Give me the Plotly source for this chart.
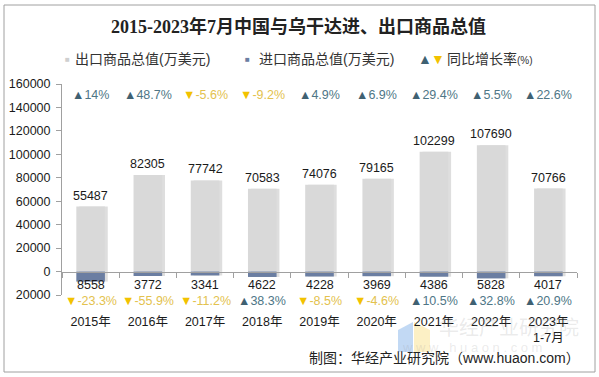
import plotly.graph_objects as go

years = ["2015年", "2016年", "2017年", "2018年", "2019年", "2020年", "2021年", "2022年", "2023年<br>1-7月"]
exports = [55487, 82305, 77742, 70583, 74076, 79165, 102299, 107690, 70766]
export_growth = [14, 48.7, -5.6, -9.2, 4.9, 6.9, 29.4, 5.5, 22.6]
imports = [8558, 3772, 3341, 4622, 4228, 3969, 4386, 5828, 4017]
import_growth = [-23.3, -55.9, -11.2, 38.3, -8.5, -4.6, 10.5, 32.8, 20.9]

EXP_COLOR = "#D9D9D9"
IMP_COLOR = "#6B7EA2"
UP_TRI = "#3F6172"
UP_TXT = "#4E7686"
DN_TRI = "#F2C200"
DN_TXT = "#E3C24E"
FONT = "Liberation Sans, Noto Sans CJK SC, sans-serif"

L, R, T, B = 62, 22, 84, 82
W, H = 599, 377
PW, PH = W - L - R, H - T - B


def px(x):
    return (x - L) / PW


def py(y):
    return (H - B - y) / PH


x_idx = list(range(len(years)))
neg_imports = [-v for v in imports]

fig = go.Figure()
# soft shadows
fig.add_trace(go.Bar(x=x_idx, y=exports, width=0.5, offset=-0.25 + 0.05,
                     marker=dict(color="rgba(0,0,0,0.13)", line=dict(width=0)),
                     hoverinfo="skip", showlegend=False))
fig.add_trace(go.Bar(x=x_idx, y=neg_imports, width=0.5, offset=-0.25 + 0.05,
                     marker=dict(color="rgba(0,0,0,0.13)", line=dict(width=0)),
                     hoverinfo="skip", showlegend=False))
fig.add_trace(go.Bar(x=x_idx, y=exports, width=0.5, offset=-0.25, name="出口商品总值(万美元)",
                     marker=dict(color=EXP_COLOR, line=dict(width=0)), showlegend=False))
fig.add_trace(go.Bar(x=x_idx, y=neg_imports, width=0.5, offset=-0.25, name="进口商品总值(万美元)",
                     marker=dict(color=IMP_COLOR, line=dict(width=0)), showlegend=False))

ann = []


def growth_text(g):
    s = ("%g" % g)
    if g >= 0:
        return f"<span style='color:{UP_TRI}'>▲</span>{s}%", UP_TXT
    return f"<span style='color:{DN_TRI}'>▼</span>{s}%", DN_TXT


EXP_G_Y = 150800
IMP_V_Y = -11500
for i in x_idx:
    ann.append(dict(x=i, y=exports[i], xref="x", yref="y", text=str(exports[i]),
                    yanchor="middle", yshift=11, font=dict(size=12.5, color="#1a1a1a", family=FONT)))
    t, c = growth_text(export_growth[i])
    ann.append(dict(x=i, y=EXP_G_Y, xref="x", yref="y", text=t,
                    font=dict(size=12.5, color=c, family=FONT)))
    ann.append(dict(x=i, y=IMP_V_Y, xref="x", yref="y", text=str(imports[i]),
                    font=dict(size=12.5, color="#1a1a1a", family=FONT)))
    t, c = growth_text(import_growth[i])
    ann.append(dict(x=i, y=py(301), xref="x", yref="y domain", text=t,
                    font=dict(size=12.5, color=c, family=FONT)))

# title
ann.append(dict(x=px(298.5), y=py(26), text="<b>2015-2023年7月中国与乌干达进、出口商品总值</b>",
                font=dict(size=18, color="#222222", family="Liberation Serif, Noto Sans CJK SC, serif")))
# legend
LY = py(59)
ann += [
    dict(x=px(67), y=LY, text="■", font=dict(size=8, color="#CFCFCF", family=FONT)),
    dict(x=px(73), y=LY, xanchor="left", text="出口商品总值(万美元)", font=dict(size=14, color="#333333", family=FONT)),
    dict(x=px(247), y=LY, text="■", font=dict(size=8, color=IMP_COLOR, family=FONT)),
    dict(x=px(257), y=LY, xanchor="left", text="进口商品总值(万美元)", font=dict(size=14, color="#333333", family=FONT)),
    dict(x=px(424.5), y=LY, text="▲", font=dict(size=14, color=UP_TRI, family=FONT)),
    dict(x=px(437.5), y=LY, text="▼", font=dict(size=14, color=DN_TRI, family=FONT)),
    dict(x=px(445), y=LY, xanchor="left", text="同比增长率<span style='font-size:10px'>(%)</span>",
         font=dict(size=14, color="#333333", family=FONT)),
]
# watermark
ann += [
    dict(x=px(509), y=py(328), text="华经产业研究院", font=dict(size=20, color="rgba(150,150,150,0.2)", family=FONT)),
    dict(x=px(472), y=py(347), text="w w w . h u a o n . c o m", font=dict(size=13, color="rgba(150,150,150,0.2)", family=FONT)),
]
# source
ann.append(dict(x=px(582), y=py(358), xanchor="right", text="制图：华经产业研究院（www.huaon.com）",
                font=dict(size=14, color="#222222", family=FONT)))
for a in ann:
    a.setdefault("xref", "paper")
    a.setdefault("yref", "paper")
    a.setdefault("xanchor", "center")
    a.setdefault("yanchor", "middle")
    a["showarrow"] = False

shapes = [
    dict(type="rect", xref="paper", yref="paper", x0=px(4), x1=px(595), y0=py(372), y1=py(5),
         line=dict(color="#A0A0A0", width=1), layer="below"),
    dict(type="path", xref="paper", yref="paper",
         path=f"M {px(398)},{py(330)} L {px(413)},{py(322)} L {px(413)},{py(352)} L {px(398)},{py(352)} Z",
         fillcolor="rgba(120,170,230,0.45)", line=dict(width=0), layer="below"),
    dict(type="path", xref="paper", yref="paper",
         path=f"M {px(414)},{py(322)} L {px(430)},{py(330)} L {px(430)},{py(352)} L {px(414)},{py(352)} Z",
         fillcolor="rgba(250,225,140,0.5)", line=dict(width=0), layer="below"),
]

fig.update_layout(
    width=W, height=H, margin=dict(l=L, r=R, t=T, b=B, autoexpand=False),
    paper_bgcolor="white", plot_bgcolor="white",
    barmode="overlay", showlegend=False,
    annotations=ann, shapes=shapes,
    font=dict(family=FONT, color="#1a1a1a"),
)
fig.update_xaxes(
    type="linear", range=[-0.5, 8.5], tickmode="array", tickvals=x_idx, ticktext=years,
    anchor="free", position=py(271.5), showline=True, linecolor="#A0A0A0", linewidth=1,
    ticks="", showgrid=False, zeroline=False, ticklabelstandoff=38, automargin=False,
    tickfont=dict(size=12.5, color="#1a1a1a", family=FONT),
    minor=dict(tickmode="array", tickvals=[i + 0.5 for i in range(-1, 9)], ticks="outside",
               ticklen=5, tickcolor="#A0A0A0", showgrid=False),
)
fig.update_yaxes(
    range=[-20000, 160000], tickmode="array",
    tickvals=[-20000, 0, 20000, 40000, 60000, 80000, 100000, 120000, 140000, 160000],
    ticktext=["20000", "0", "20000", "40000", "60000", "80000", "100000", "120000", "140000", "160000"],
    showline=True, linecolor="#A0A0A0", linewidth=1, ticks="outside", ticklen=5, tickcolor="#A0A0A0",
    showgrid=False, zeroline=False, ticklabelstandoff=3, automargin=False,
    tickfont=dict(size=12.5, color="#1a1a1a", family=FONT),
)

fig.write_html("out.html", config={"displayModeBar": False},
               post_script="document.body.style.margin='0';document.body.style.overflow='hidden';")
